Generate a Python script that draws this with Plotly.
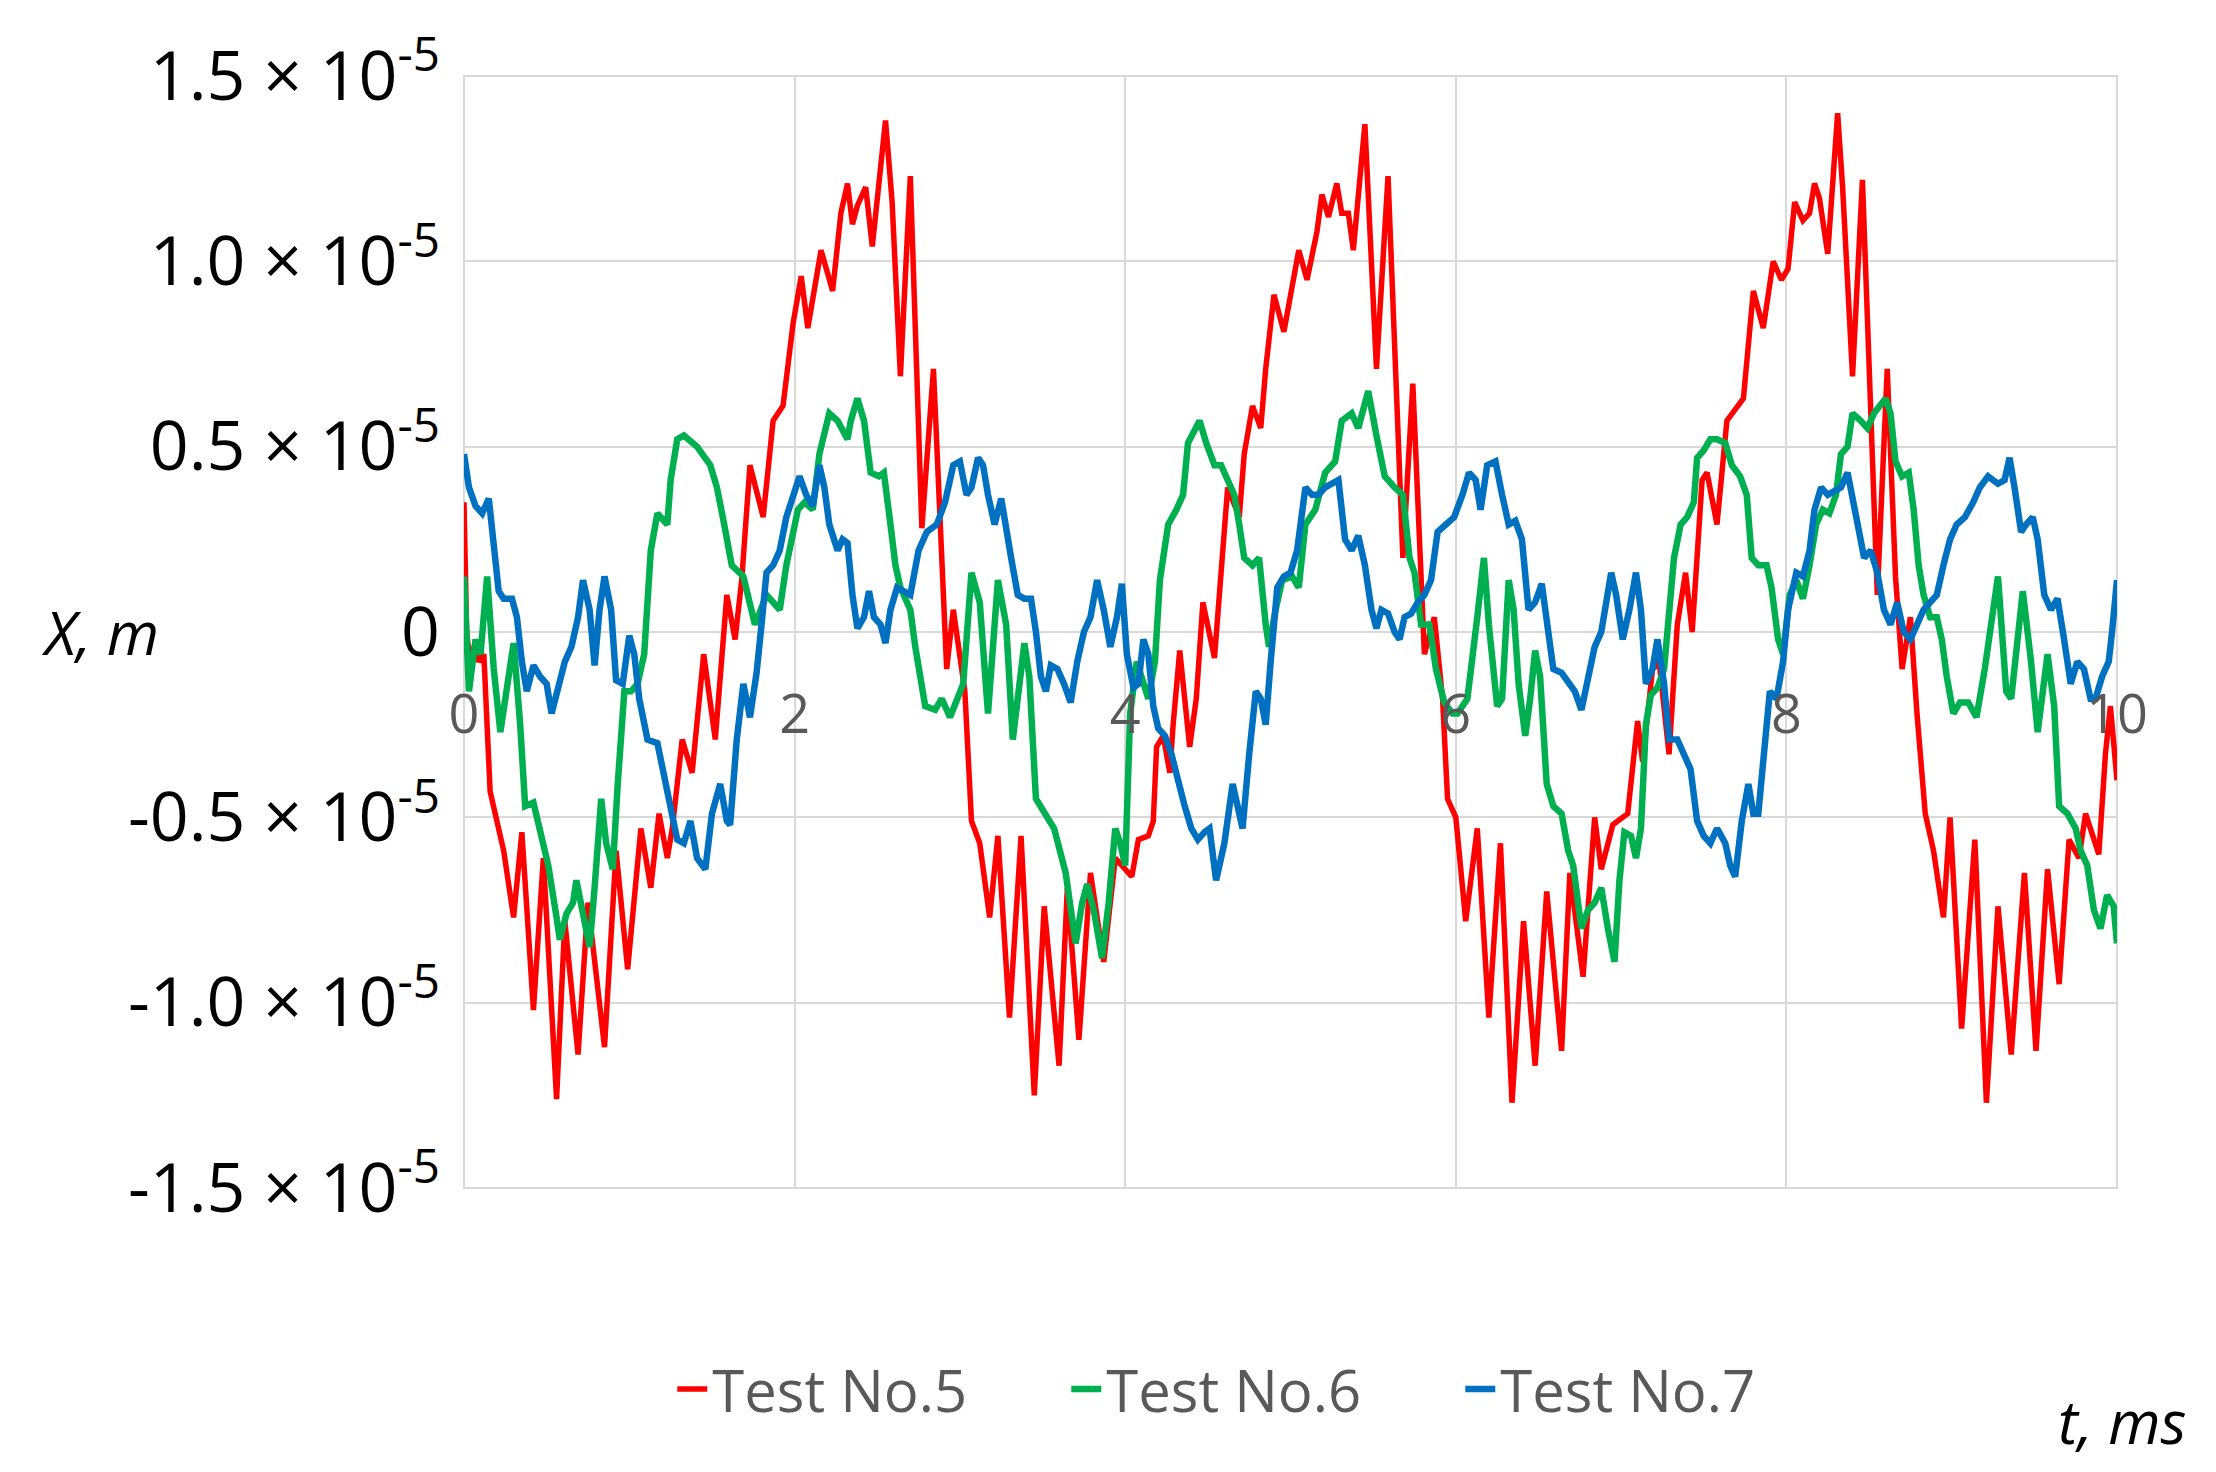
import plotly.graph_objects as go

# ---------------- data (X in units of 1e-5 m, t in ms) ----------------
t_test5 = [0.000, 0.016, 0.036, 0.06, 0.09, 0.12, 0.158, 0.20, 0.24, 0.27, 0.30, 0.35, 0.42, 0.48, 0.56, 0.61,
           0.69, 0.75, 0.85, 0.92, 0.99, 1.07, 1.13, 1.18, 1.23, 1.26, 1.32, 1.38, 1.45, 1.52, 1.59, 1.64,
           1.68, 1.73, 1.81, 1.87, 1.93, 1.99, 2.04, 2.08, 2.16, 2.23, 2.28, 2.32, 2.35, 2.38, 2.43, 2.47,
           2.51, 2.55, 2.59, 2.64, 2.70, 2.77, 2.84, 2.92, 2.96, 3.03, 3.07, 3.12, 3.18, 3.23, 3.30, 3.37,
           3.45, 3.51, 3.60, 3.65, 3.72, 3.79, 3.87, 3.94, 4.04, 4.08, 4.14, 4.17, 4.19, 4.23, 4.27, 4.29,
           4.33, 4.39, 4.43, 4.47, 4.54, 4.58, 4.62, 4.69, 4.72, 4.77, 4.82, 4.85, 4.90, 4.96, 5.00, 5.05,
           5.10, 5.16, 5.19, 5.23, 5.28, 5.31, 5.35, 5.38, 5.45, 5.52, 5.59, 5.63, 5.68, 5.74, 5.81, 5.87,
           5.92, 5.95, 6.00, 6.06, 6.13, 6.20, 6.27, 6.34, 6.41, 6.48, 6.55, 6.64, 6.69, 6.77, 6.84, 6.88,
           6.95, 7.04, 7.10, 7.13, 7.19, 7.23, 7.29, 7.34, 7.39, 7.43, 7.49, 7.52, 7.58, 7.64, 7.70, 7.74,
           7.80, 7.86, 7.92, 7.97, 8.01, 8.05, 8.10, 8.14, 8.17, 8.20, 8.25, 8.31, 8.34, 8.40, 8.46, 8.55,
           8.61, 8.66, 8.70, 8.75, 8.79, 8.84, 8.89, 8.95, 8.99, 9.06, 9.14, 9.21, 9.28, 9.36, 9.44, 9.51,
           9.58, 9.65, 9.71, 9.77, 9.81, 9.89, 9.93, 9.96, 10.0]
x_test5 = [0.35, 0.00, -0.08, -0.04, -0.08, -0.06, -0.43, -0.51, -0.59, -0.68, -0.77, -0.54, -1.02, -0.61, -1.26, -0.78,
           -1.14, -0.73, -1.12, -0.59, -0.91, -0.53, -0.69, -0.49, -0.61, -0.53, -0.29, -0.38, -0.06, -0.29, 0.10, -0.02,
           0.14, 0.45, 0.31, 0.57, 0.61, 0.83, 0.96, 0.82, 1.03, 0.92, 1.13, 1.21, 1.10, 1.15, 1.20, 1.04,
           1.20, 1.38, 1.16, 0.69, 1.23, 0.28, 0.71, -0.10, 0.06, -0.16, -0.51, -0.57, -0.77, -0.55, -1.04, -0.55,
           -1.25, -0.74, -1.17, -0.69, -1.10, -0.65, -0.89, -0.61, -0.66, -0.56, -0.55, -0.51, -0.31, -0.28, -0.38, -0.25,
           -0.05, -0.31, -0.18, 0.08, -0.07, 0.18, 0.39, 0.31, 0.48, 0.61, 0.55, 0.71, 0.91, 0.81, 0.90, 1.03,
           0.95, 1.08, 1.18, 1.12, 1.21, 1.13, 1.13, 1.03, 1.37, 0.71, 1.23, 0.80, 0.20, 0.67, -0.06, 0.04,
           -0.18, -0.45, -0.50, -0.78, -0.53, -1.04, -0.57, -1.27, -0.78, -1.17, -0.70, -1.13, -0.65, -0.93, -0.50, -0.64,
           -0.52, -0.49, -0.24, -0.35, -0.10, -0.08, -0.33, 0.02, 0.16, 0.00, 0.41, 0.43, 0.29, 0.57, 0.61, 0.63,
           0.92, 0.82, 1.00, 0.95, 0.98, 1.16, 1.11, 1.13, 1.21, 1.17, 1.02, 1.40, 1.20, 0.69, 1.22, 0.10,
           0.71, 0.15, -0.10, 0.04, -0.22, -0.49, -0.59, -0.77, -0.50, -1.07, -0.56, -1.27, -0.74, -1.14, -0.65, -1.13,
           -0.64, -0.95, -0.56, -0.61, -0.49, -0.60, -0.33, -0.20, -0.40]

t_test6 = [0.00, 0.03, 0.07, 0.10, 0.14, 0.18, 0.22, 0.26, 0.30, 0.34, 0.37, 0.42, 0.47, 0.51, 0.56, 0.58,
           0.62, 0.66, 0.68, 0.71, 0.76, 0.79, 0.83, 0.86, 0.90, 0.93, 0.97, 1.01, 1.05, 1.09, 1.11, 1.13,
           1.17, 1.23, 1.25, 1.29, 1.33, 1.41, 1.49, 1.53, 1.57, 1.62, 1.69, 1.72, 1.76, 1.83, 1.91, 1.95,
           1.98, 2.02, 2.06, 2.11, 2.15, 2.21, 2.26, 2.32, 2.34, 2.38, 2.42, 2.46, 2.51, 2.54, 2.58, 2.61,
           2.64, 2.70, 2.73, 2.79, 2.85, 2.89, 2.94, 2.99, 3.02, 3.07, 3.12, 3.17, 3.23, 3.28, 3.32, 3.39,
           3.42, 3.46, 3.51, 3.57, 3.64, 3.70, 3.74, 3.77, 3.81, 3.86, 3.90, 3.94, 3.97, 4.00, 4.03, 4.07,
           4.14, 4.18, 4.21, 4.26, 4.31, 4.35, 4.38, 4.45, 4.49, 4.54, 4.58, 4.62, 4.66, 4.69, 4.72, 4.77,
           4.81, 4.85, 4.87, 4.91, 4.95, 5.01, 5.05, 5.09, 5.15, 5.21, 5.27, 5.31, 5.37, 5.41, 5.47, 5.52,
           5.57, 5.63, 5.68, 5.72, 5.75, 5.79, 5.84, 5.88, 5.93, 5.98, 6.01, 6.07, 6.10, 6.13, 6.17, 6.20,
           6.25, 6.28, 6.32, 6.35, 6.38, 6.42, 6.45, 6.48, 6.51, 6.55, 6.59, 6.64, 6.68, 6.71, 6.76, 6.80,
           6.84, 6.88, 6.92, 6.96, 6.99, 7.02, 7.06, 7.09, 7.12, 7.15, 7.18, 7.22, 7.26, 7.29, 7.32, 7.36,
           7.40, 7.44, 7.46, 7.50, 7.54, 7.58, 7.63, 7.67, 7.72, 7.76, 7.79, 7.83, 7.88, 7.91, 7.95, 7.98,
           8.02, 8.06, 8.10, 8.14, 8.18, 8.22, 8.26, 8.30, 8.33, 8.37, 8.40, 8.45, 8.49, 8.53, 8.56, 8.60,
           8.63, 8.66, 8.70, 8.74, 8.77, 8.80, 8.83, 8.87, 8.91, 8.94, 8.97, 9.01, 9.05, 9.10, 9.15, 9.20,
           9.28, 9.33, 9.36, 9.43, 9.48, 9.52, 9.58, 9.62, 9.65, 9.70, 9.75, 9.78, 9.82, 9.86, 9.90, 9.94,
           9.98, 10.0]
x_test6 = [0.15, -0.16, -0.02, -0.06, 0.15, -0.10, -0.27, -0.14, -0.03, -0.25, -0.47, -0.46, -0.56, -0.63, -0.77, -0.83,
           -0.76, -0.73, -0.67, -0.73, -0.85, -0.69, -0.45, -0.57, -0.64, -0.41, -0.16, -0.16, -0.14, -0.06, 0.10, 0.22,
           0.32, 0.29, 0.41, 0.52, 0.53, 0.50, 0.45, 0.39, 0.30, 0.18, 0.15, 0.10, 0.02, 0.10, 0.06, 0.18,
           0.25, 0.33, 0.35, 0.33, 0.48, 0.59, 0.57, 0.52, 0.57, 0.63, 0.57, 0.43, 0.42, 0.43, 0.29, 0.18,
           0.12, 0.06, -0.04, -0.20, -0.21, -0.18, -0.23, -0.18, -0.14, 0.16, 0.08, -0.22, 0.14, 0.02, -0.29, -0.03,
           -0.12, -0.45, -0.49, -0.53, -0.65, -0.84, -0.73, -0.68, -0.75, -0.88, -0.73, -0.53, -0.57, -0.63, -0.22, -0.08,
           -0.18, -0.08, 0.14, 0.29, 0.33, 0.37, 0.51, 0.57, 0.51, 0.45, 0.45, 0.41, 0.37, 0.29, 0.20, 0.18,
           0.20, 0.02, -0.04, 0.06, 0.14, 0.15, 0.12, 0.29, 0.33, 0.43, 0.46, 0.57, 0.59, 0.55, 0.65, 0.53,
           0.42, 0.39, 0.37, 0.20, 0.16, 0.02, 0.02, -0.10, -0.19, -0.22, -0.22, -0.18, -0.08, 0.04, 0.20, 0.02,
           -0.20, -0.18, 0.14, 0.06, -0.14, -0.28, -0.18, -0.05, -0.12, -0.41, -0.47, -0.49, -0.59, -0.63, -0.80, -0.75,
           -0.73, -0.69, -0.80, -0.89, -0.67, -0.54, -0.55, -0.61, -0.53, -0.25, -0.17, -0.15, -0.10, 0.06, 0.20, 0.29,
           0.31, 0.35, 0.47, 0.49, 0.52, 0.52, 0.51, 0.45, 0.42, 0.37, 0.20, 0.18, 0.18, 0.12, -0.02, -0.06,
           0.10, 0.14, 0.09, 0.18, 0.29, 0.33, 0.32, 0.37, 0.48, 0.50, 0.59, 0.57, 0.55, 0.59, 0.61, 0.63,
           0.59, 0.46, 0.42, 0.43, 0.33, 0.18, 0.10, 0.04, 0.04, -0.02, -0.12, -0.22, -0.19, -0.19, -0.23, -0.10,
           0.15, -0.16, -0.18, 0.11, -0.08, -0.27, -0.06, -0.20, -0.47, -0.49, -0.53, -0.59, -0.63, -0.75, -0.80, -0.71,
           -0.74, -0.84]

t_test7 = [0.00, 0.03, 0.07, 0.11, 0.15, 0.18, 0.21, 0.24, 0.29, 0.32, 0.35, 0.38, 0.42, 0.46, 0.50, 0.53,
           0.56, 0.61, 0.65, 0.69, 0.72, 0.76, 0.79, 0.82, 0.85, 0.89, 0.92, 0.96, 1.00, 1.03, 1.06, 1.11,
           1.17, 1.21, 1.25, 1.29, 1.33, 1.37, 1.41, 1.46, 1.50, 1.55, 1.59, 1.61, 1.65, 1.69, 1.73, 1.77,
           1.80, 1.83, 1.87, 1.91, 1.95, 1.99, 2.03, 2.07, 2.11, 2.15, 2.18, 2.21, 2.26, 2.29, 2.32, 2.35,
           2.38, 2.42, 2.45, 2.48, 2.52, 2.55, 2.58, 2.62, 2.66, 2.70, 2.75, 2.80, 2.86, 2.91, 2.96, 3.00,
           3.04, 3.07, 3.11, 3.14, 3.17, 3.21, 3.25, 3.28, 3.31, 3.35, 3.39, 3.43, 3.46, 3.49, 3.52, 3.55,
           3.59, 3.63, 3.67, 3.71, 3.75, 3.79, 3.83, 3.87, 3.91, 3.95, 3.98, 4.01, 4.05, 4.08, 4.11, 4.14,
           4.17, 4.20, 4.24, 4.28, 4.32, 4.36, 4.40, 4.44, 4.48, 4.51, 4.55, 4.60, 4.65, 4.68, 4.71, 4.75,
           4.79, 4.82, 4.85, 4.88, 4.92, 4.96, 5.00, 5.04, 5.09, 5.13, 5.17, 5.21, 5.25, 5.29, 5.33, 5.37,
           5.41, 5.45, 5.49, 5.52, 5.55, 5.59, 5.63, 5.66, 5.69, 5.73, 5.77, 5.81, 5.85, 5.89, 5.94, 5.99,
           6.04, 6.08, 6.12, 6.15, 6.19, 6.24, 6.28, 6.32, 6.36, 6.40, 6.44, 6.48, 6.52, 6.55, 6.59, 6.64,
           6.69, 6.72, 6.76, 6.80, 6.84, 6.88, 6.91, 6.94, 6.97, 7.01, 7.05, 7.09, 7.12, 7.15, 7.19, 7.22,
           7.26, 7.29, 7.34, 7.38, 7.42, 7.46, 7.50, 7.54, 7.58, 7.63, 7.66, 7.69, 7.73, 7.77, 7.80, 7.83,
           7.87, 7.90, 7.94, 7.98, 8.01, 8.04, 8.06, 8.10, 8.14, 8.17, 8.21, 8.25, 8.29, 8.33, 8.37, 8.40,
           8.44, 8.47, 8.51, 8.55, 8.59, 8.63, 8.67, 8.71, 8.75, 8.79, 8.83, 8.87, 8.91, 8.95, 8.99, 9.03,
           9.08, 9.13, 9.17, 9.22, 9.28, 9.32, 9.35, 9.38, 9.42, 9.45, 9.49, 9.52, 9.56, 9.60, 9.64, 9.68,
           9.72, 9.76, 9.80, 9.84, 9.87, 9.91, 9.95, 9.97, 10.0]
x_test7 = [0.48, 0.39, 0.34, 0.32, 0.36, 0.25, 0.11, 0.09, 0.09, 0.04, -0.08, -0.16, -0.09, -0.12, -0.14, -0.22,
           -0.16, -0.08, -0.04, 0.04, 0.14, 0.06, -0.09, 0.06, 0.15, 0.06, -0.13, -0.14, -0.01, -0.06, -0.18, -0.29,
           -0.30, -0.39, -0.49, -0.56, -0.57, -0.51, -0.61, -0.64, -0.49, -0.41, -0.51, -0.52, -0.29, -0.14, -0.23, -0.11,
           0.02, 0.16, 0.18, 0.22, 0.31, 0.37, 0.42, 0.37, 0.34, 0.45, 0.39, 0.29, 0.22, 0.25, 0.24, 0.10,
           0.01, 0.04, 0.11, 0.04, 0.02, -0.03, 0.06, 0.12, 0.11, 0.10, 0.22, 0.27, 0.29, 0.35, 0.45, 0.46,
           0.37, 0.39, 0.47, 0.45, 0.37, 0.29, 0.36, 0.27, 0.20, 0.10, 0.09, 0.09, 0.00, -0.12, -0.16, -0.09,
           -0.10, -0.14, -0.19, -0.08, 0.00, 0.04, 0.14, 0.06, -0.04, 0.04, 0.13, -0.06, -0.15, -0.14, -0.02, -0.06,
           -0.20, -0.26, -0.28, -0.33, -0.41, -0.47, -0.53, -0.56, -0.54, -0.53, -0.67, -0.57, -0.41, -0.47, -0.53, -0.33,
           -0.16, -0.18, -0.25, -0.08, 0.12, 0.15, 0.16, 0.22, 0.39, 0.37, 0.37, 0.39, 0.40, 0.41, 0.25, 0.22,
           0.26, 0.18, 0.06, 0.01, 0.06, 0.05, 0.00, -0.02, 0.04, 0.05, 0.08, 0.10, 0.14, 0.27, 0.29, 0.31,
           0.37, 0.43, 0.41, 0.33, 0.45, 0.46, 0.37, 0.29, 0.30, 0.25, 0.06, 0.08, 0.13, 0.02, -0.10, -0.11,
           -0.14, -0.16, -0.21, -0.12, -0.04, 0.00, 0.08, 0.16, 0.10, -0.02, 0.06, 0.16, 0.06, -0.14, -0.10, -0.02,
           -0.14, -0.29, -0.29, -0.33, -0.37, -0.51, -0.55, -0.57, -0.53, -0.57, -0.63, -0.66, -0.51, -0.41, -0.49, -0.49,
           -0.29, -0.16, -0.18, -0.08, 0.06, 0.12, 0.16, 0.15, 0.22, 0.33, 0.39, 0.37, 0.38, 0.39, 0.43, 0.37,
           0.27, 0.20, 0.22, 0.16, 0.06, 0.02, 0.08, 0.00, -0.02, 0.02, 0.06, 0.08, 0.10, 0.18, 0.25, 0.29,
           0.31, 0.35, 0.39, 0.42, 0.40, 0.41, 0.47, 0.39, 0.27, 0.29, 0.31, 0.25, 0.10, 0.06, 0.09, -0.02,
           -0.14, -0.08, -0.10, -0.18, -0.18, -0.12, -0.08, 0.00, 0.14]

series_names = ["Test No.5", "Test No.6", "Test No.7"]
series_colors = ["#FF0000", "#00B050", "#0070C0"]

x_tick_vals = [0, 2, 4, 6, 8, 10]
x_tick_text = ["0", "2", "4", "6", "8", "10"]
y_tick_vals = [-1.5, -1.0, -0.5, 0.0, 0.5, 1.0, 1.5]
y_tick_text = ["-1.5 × 10<sup>-5</sup>", "-1.0 × 10<sup>-5</sup>", "-0.5 × 10<sup>-5</sup>", "0",
               "0.5 × 10<sup>-5</sup>", "1.0 × 10<sup>-5</sup>", "1.5 × 10<sup>-5</sup>"]

FONT = "Open Sans"
GRID = "#D9D9D9"

fig = go.Figure()
series = [(t_test5, x_test5, 5.5), (t_test6, x_test6, 6.5), (t_test7, x_test7, 6.5)]
for (t, x, w), name, color in zip(series, series_names, series_colors):
    fig.add_trace(go.Scatter(x=t, y=x, mode="lines", name=name,
                             line=dict(color=color, width=w)))

fig.update_layout(
    width=2216, height=1472,
    margin=dict(l=456, r=107, t=54, b=292),
    paper_bgcolor="white", plot_bgcolor="white",
    font=dict(family=FONT, color="black"),
    showlegend=True,
    legend=dict(orientation="h", x=0.126, xanchor="left", y=-0.181, yanchor="middle",
                font=dict(size=58, color="#595959", family=FONT),
                entrywidth=349, entrywidthmode="pixels",
                bgcolor="rgba(0,0,0,0)"),
    xaxis=dict(range=[0, 10], tickvals=x_tick_vals, ticktext=x_tick_text,
               showgrid=True, gridcolor=GRID, gridwidth=2, zeroline=False, showline=False,
               anchor="free", position=0.5, ticks="", ticklabelstandoff=46,
               tickfont=dict(size=54, color="#595959", family=FONT)),
    yaxis=dict(range=[-1.5, 1.5], tickvals=y_tick_vals, ticktext=y_tick_text,
               showgrid=True, gridcolor=GRID, gridwidth=2, zeroline=False, showline=False,
               ticks="", ticklabelstandoff=23, ticklabeloverflow="allow",
               tickfont=dict(size=68, color="black", family=FONT)),
    shapes=[dict(type="rect", xref="paper", yref="paper", x0=0, x1=1, y0=0, y1=1,
                 line=dict(color=GRID, width=2), layer="below")],
    annotations=[
        dict(text="<i>X, m</i>", xref="paper", yref="y", x=-0.257, y=0, xanchor="left",
             yanchor="middle", yshift=0, showarrow=False, font=dict(size=60, color="black", family=FONT)),
        dict(text="<i>t, ms</i>", xref="paper", yref="paper", x=0.963, y=-0.2096, xanchor="left",
             yanchor="middle", showarrow=False, font=dict(size=60, color="black", family=FONT)),
    ],
)

fig.write_html("out.html")
